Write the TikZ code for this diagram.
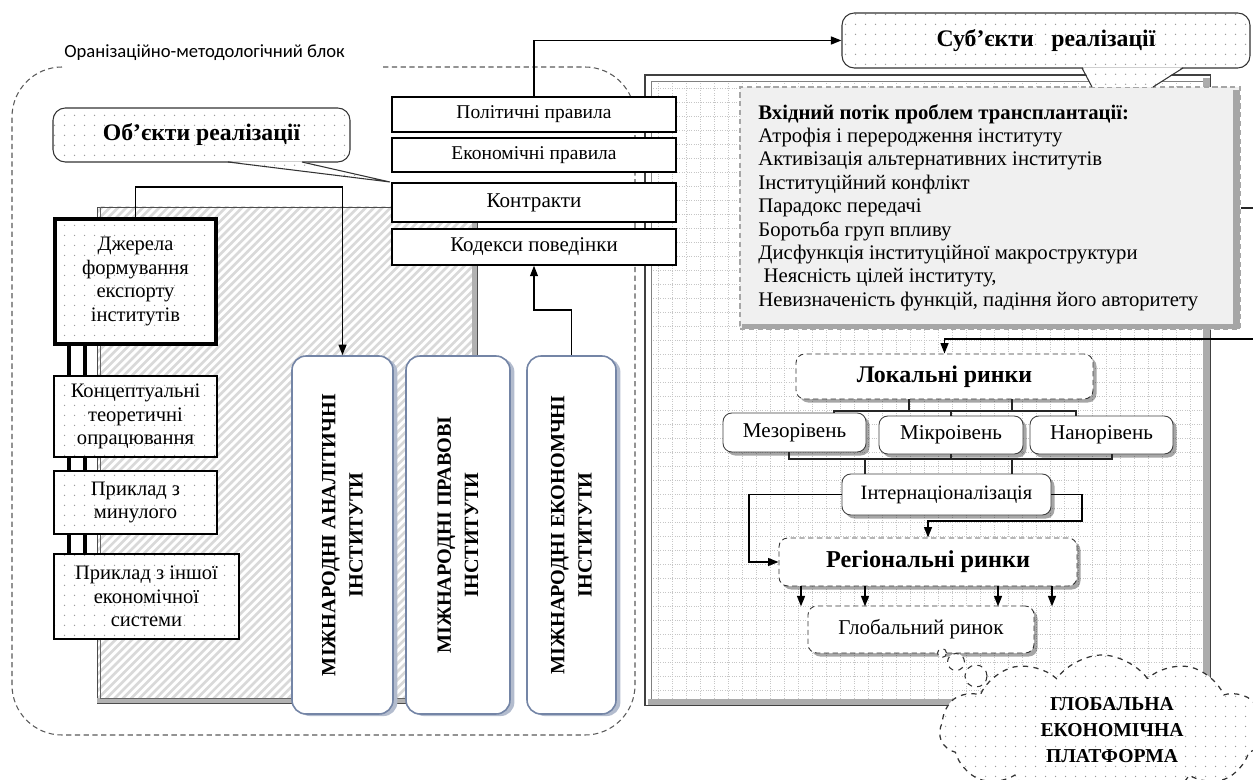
\documentclass[tikz,border=0pt]{standalone}
\usepackage{fontspec}
\setmainfont{Liberation Serif}
\newfontfamily\lblfont{Carlito}
\usetikzlibrary{arrows.meta,patterns,shapes.symbols,shadows}
\newdimen\pxu
\pxu=0.02cm
\pgfdeclarepatternformonly{sdots}{\pgfqpoint{0pt}{0pt}}{\pgfqpoint{5.7pt}{5.7pt}}{\pgfqpoint{5.7pt}{5.7pt}}{%
  \pgfpathcircle{\pgfqpoint{2.85pt}{2.85pt}}{0.45pt}\pgfusepath{fill}}
\pgfdeclarepatternformonly{hatch}{\pgfqpoint{-1pt}{-1pt}}{\pgfqpoint{5.7pt}{5.7pt}}{\pgfqpoint{4.7pt}{4.7pt}}{%
  \pgfsetlinewidth{1.5pt}\pgfpathmoveto{\pgfqpoint{0pt}{0pt}}\pgfpathlineto{\pgfqpoint{4.8pt}{4.8pt}}\pgfusepath{stroke}}
\definecolor{vbord}{HTML}{7485A6}
\tikzset{
  fs/.style 2 args={font=\fontsize{#1}{#2}\selectfont},
  dotfill/.style={preaction={fill=white}, pattern=sdots, pattern color=gray!75},
  srcbox/.style={draw=black, line width=0.6pt, dotfill, inner sep=0pt, align=center},
  rulebox/.style={draw=black, line width=0.8pt, fill=white, inner sep=0pt},
  vbox/.style={draw=vbord, line width=0.9pt, fill=white, rounded corners=8pt, inner sep=0pt,
    drop shadow={shadow xshift=2.5pt, shadow yshift=-1.2pt, opacity=1, fill=vbord!55!white}},
  vtext/.style={rotate=90, align=center, font=\bfseries\fontsize{11.5}{15.5}\selectfont, inner sep=0pt},
  mkt/.style={draw=black!80, densely dashed, line width=0.5pt, fill=white, rounded corners=5pt, inner sep=0pt,
    drop shadow={shadow xshift=2pt, shadow yshift=-2pt, opacity=0.35, fill=black}},
  mktsolid/.style={mkt, solid, draw=black!75},
  arr/.style={-{Triangle[length=6pt,width=4.5pt]}, line width=0.9pt, draw=black},
  conn/.style={line width=0.8pt, draw=black!85},
  bar/.style={line width=2.5pt, draw=black},
  gridln/.style={draw=gray!45, densely dotted, line width=0.35pt},
  orgline/.style={draw=black!65, densely dashed, line width=0.6pt},
  callout/.style={draw=black!80, line width=0.6pt, dotfill, rounded corners=7pt, inner sep=0pt},
}
\begin{document}
\begin{tikzpicture}[x=0.02cm,y=-0.02cm]
\useasboundingbox (0,0) rectangle (1253,780);
% ---------------- right panel with grid
\node[draw=black!75, line width=0.5pt, fill=white, minimum width=565\pxu, minimum height=630\pxu, inner sep=0pt] (rp) at (927.5,390) {};
\foreach \gx in {658,672,...,1196} \draw[gridln] (\gx,81) -- (\gx,699);
\foreach \gy in {88,102,...,696} \draw[gridln] (651,\gy) -- (1203,\gy);
\draw[black!50, line width=0.5pt] (651,81) rectangle (1203,699);
\fill[gray!65] (1203,78) rectangle (1210,705);
\fill[gray!65] (648,699) rectangle (1210,705);
\draw[black!75, line width=0.5pt] (rp.north west) rectangle (rp.south east);
% ---------------- grey problems box
\node[draw=gray!70, densely dashed, line width=0.8pt, fill=black!6, minimum width=500\pxu, minimum height=242\pxu, inner sep=0pt] (gb) at (990,208) {};
\fill[gray!70] (1233,90) rectangle (1240,329);
\fill[gray!70] (742,324) rectangle (1240,329);
\node[anchor=north west, align=left, inner sep=0pt, fs={11.8}{13.3}] (gbt) at (758,104)
 {\textbf{Вхідний потік проблем трансплантації:}\\
  Атрофія і переродження інституту\\
  Активізація альтернативних інститутів\\
  Інституційний конфлікт\\
  Парадокс передачі\\
  Боротьба груп впливу\\
  Дисфункція інституційної макроструктури\\
  \hspace*{3pt}Неясність цілей інституту,\\
  Невизначеність функцій, падіння його авторитету};
\coordinate (e2) at (1253,208);
\draw[conn] (gb.east) -- (e2);
% ---------------- subjects callout
\node[callout, minimum width=408\pxu, minimum height=55\pxu, font=\bfseries\fontsize{13.5}{16}\selectfont] (sub) at (1046,40.5) {Суб’єкти\ \ \ реалізації};
\path[dotfill] (1083,67.3) -- (1182,67.3) -- (1153,87) -- (1092,87) -- cycle;
\draw[black!80, line width=0.6pt] (1082,68) -- (1092,87) (1183,68) -- (1153,87);
% ---------------- organisational block
\draw[orgline, rounded corners=50\pxu] (383,67) -- (635,67) -- (635,735) -- (12,735) -- (12,67) -- (62,67);
\node[anchor=west, inner sep=0pt, font=\lblfont\fontsize{10.6}{12}\selectfont] (lbl) at (64,53) {Оранізаційно-методологічний блок};
% objects callout
\node[callout, minimum width=297\pxu, minimum height=54\pxu, font=\bfseries\fontsize{13.5}{16}\selectfont] (obj) at (201.5,135) {Об’єкти реалізації};
\path[dotfill] (229,161.3) -- (301,161.3) -- (390,182) -- cycle;
\draw[black!80, line width=0.6pt] (228,162) -- (390,182) -- (302,162);
% hatched panel
\node[draw=black!70, line width=0.4pt, pattern=hatch, pattern color=gray!30, minimum width=380\pxu, minimum height=496\pxu, inner sep=0pt] (hp) at (287,455) {};
\fill[gray!60] (472,210) rectangle (477,703);
\fill[gray!60] (97,698) rectangle (477,703);
\draw[black!60, line width=0.4pt] (100,207) -- (100,698) -- (472,698);
% left source boxes
\node[srcbox, line width=2.6pt, minimum width=161\pxu, minimum height=125\pxu, fs={11.7}{13.3}] (dzh) at (135.5,281.5) {Джерела\\формування\\експорту\\інститутів};
\node[srcbox, minimum width=163\pxu, minimum height=81\pxu, fs={11.7}{13.3}] (konc) at (135.5,416.5) {Концептуальні\\теоретичні\\опрацювання};
\node[srcbox, minimum width=163\pxu, minimum height=63\pxu, fs={11.7}{13.3}] (pmin) at (135.5,502.5) {Приклад з\\минулого};
\node[srcbox, minimum width=185\pxu, minimum height=85\pxu, fs={11.7}{13.3}] (pinsh) at (146.5,596.5) {Приклад з іншої\\економічної\\системи};
\coordinate (bA) at (69,0);
\coordinate (bB) at (85,0);
\foreach \bb in {bA,bB} {
  \draw[bar] (dzh.south -| \bb) -- (konc.north -| \bb);
  \draw[bar] (konc.south -| \bb) -- (pmin.north -| \bb);
  \draw[bar] (pmin.south -| \bb) -- (pinsh.north -| \bb);
}
% rule boxes
\node[rulebox, minimum width=284\pxu, minimum height=35\pxu, fs={11.1}{12}] (pol) at (534,114.5) {Політичні правила};
\node[rulebox, minimum width=284\pxu, minimum height=34\pxu, fs={11.1}{12}] (eko) at (534,155) {Економічні правила};
\node[rulebox, minimum width=284\pxu, minimum height=39\pxu, fs={12}{13}] (kon) at (534,202.5) {Контракти};
\node[rulebox, minimum width=284\pxu, minimum height=36\pxu, fs={11.9}{13}] (kod) at (534,247) {Кодекси поведінки};
% vertical institute boxes
\node[vbox, minimum width=101\pxu, minimum height=358\pxu] (ana) at (342.5,535) {};
\node[vtext] (anat) at (ana.center) {МІЖНАРОДНІ АНАЛІТИЧНІ\\ІНСТИТУТИ};
\node[vbox, minimum width=104\pxu, minimum height=358\pxu] (prav) at (458,535) {};
\node[vtext] (pravt) at (prav.center) {МІЖНАРОДНІ ПРАВОВІ\\ІНСТИТУТИ};
\node[vbox, minimum width=89\pxu, minimum height=358\pxu] (ekn) at (571.5,535) {};
\node[vtext] (eknt) at (ekn.center) {МІЖНАРОДНІ ЕКОНОМЧНІ\\ІНСТИТУТИ};
% connectors of the left part
\coordinate (t1) at (135.5,187);
\draw[arr] (dzh.north) -- (t1) -| (ana.north);
\coordinate (t2) at (571.5,310);
\draw[arr] (ekn.north) -- (t2) -| (kod.south);
\draw[arr] (pol.north) |- (sub.west);
% ---------------- markets
\node[mkt, minimum width=297\pxu, minimum height=45\pxu, font=\bfseries\fontsize{13.6}{16}\selectfont] (lok) at (944.5,376.5) {Локальні ринки};
\node[mktsolid, minimum width=143\pxu, minimum height=39\pxu, fs={12}{13}] (mezo) at (794.5,432.5) {Мезорівень};
\node[mktsolid, minimum width=144\pxu, minimum height=38\pxu, fs={12}{13}] (mikro) at (951,435) {Мікроівень};
\node[mktsolid, minimum width=143\pxu, minimum height=38\pxu, fs={12}{13}] (nano) at (1101.5,435) {Нанорівень};
\node[mktsolid, minimum width=209\pxu, minimum height=41\pxu, fs={11.6}{13}] (intern) at (946.5,494.5) {Інтернаціоналізація};
\node[mkt, minimum width=298\pxu, minimum height=48\pxu, font=\bfseries\fontsize{13.8}{16}\selectfont] (reg) at (928,562) {Регіональні ринки};
\node[mkt, minimum width=226\pxu, minimum height=47\pxu, fs={12}{13}] (glob) at (921,629.5) {Глобальний ринок};
\coordinate (e1) at (1253,339);
\draw[arr] (e1) -| (lok.north);
% bracket under local markets
\coordinate (bL) at (834,411);
\coordinate (bR) at (1076,411);
\draw[conn] ([xshift=-35.5\pxu]lok.south) -- +(0,12);
\draw[conn] ([xshift=67.5\pxu]lok.south) -- +(0,12);
\draw[conn] (mezo.north -| bL) -- (bL) -- (bR) -- (nano.north -| bR);
\draw[conn] (mikro.north) -- (mikro.north |- bL);
% bracket above internationalisation
\coordinate (cL) at (789,459);
\coordinate (cR) at (1112,459);
\draw[conn] (mezo.south -| cL) -- (cL) -- (cR) -- (nano.south -| cR);
\draw[conn] (mikro.south) -- (mikro.south |- cL);
\coordinate (dL) at (865,459);
\coordinate (dR) at (1012,459);
\draw[conn] (dL) -- (dL |- intern.north);
\draw[conn] (dR) -- (dR |- intern.north);
% internationalisation to regional
\coordinate (fL) at (749,494.5);
\draw[arr] (intern.west) -- (fL) |- (reg.west);
\coordinate (fR) at (1082,494.5);
\coordinate (fR2) at (1082,521);
\draw[arr] (intern.east) -- (fR) -- (fR2) -| (reg.north);
% regional to global
\foreach \sx in {-127,-63,70,124}
  \draw[arr] ([xshift=\sx\pxu]reg.south) -- +(0,20);
% ---------------- cloud
\node[cloud, cloud puffs=11, cloud puff arc=110, aspect=2.2, draw=black!80, dashed, line width=0.7pt, dotfill, minimum width=325\pxu, minimum height=150\pxu, inner sep=0pt] (cl) at (1102,730) {};
\node[circle, draw=black!80, dashed, line width=0.6pt, fill=white, minimum size=22\pxu, inner sep=0pt] (cb1) at (976,676) {};
\node[circle, draw=black!80, dashed, line width=0.6pt, fill=white, minimum size=17\pxu, inner sep=0pt] (cb2) at (956,662) {};
\node[circle, draw=black!80, dashed, line width=0.6pt, fill=white, minimum size=9\pxu, inner sep=0pt] (cb3) at (942,653) {};
\node[align=center, inner sep=0pt, font=\bfseries\fontsize{11.2}{15}\selectfont] (clt) at (1112,730) {ГЛОБАЛЬНА\\ЕКОНОМІЧНА\\ПЛАТФОРМА};
\end{tikzpicture}
\end{document}
